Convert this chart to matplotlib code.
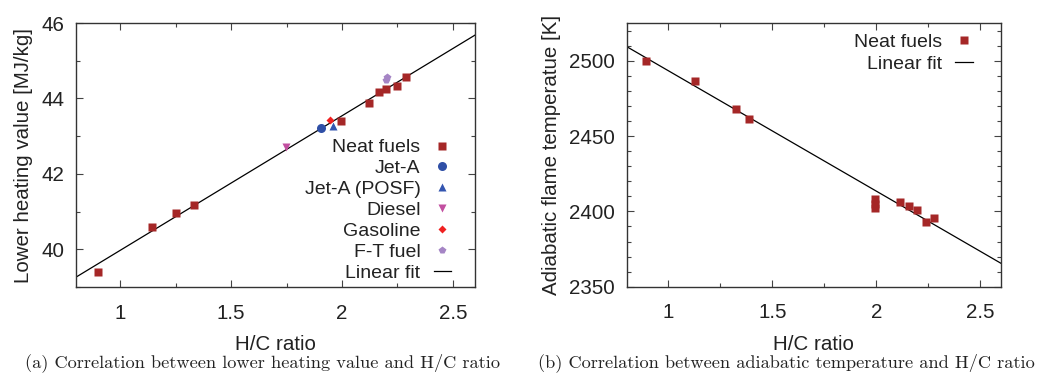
import matplotlib
matplotlib.use("Agg")
import matplotlib.pyplot as plt
from matplotlib.ticker import MultipleLocator

# ---------------- data: panel (a) ----------------
neat_hc_a = [0.898, 1.142, 1.252, 1.334, 1.996, 2.122, 2.165, 2.200, 2.250, 2.288]
neat_lhv = [39.40, 40.58, 40.95, 41.17, 43.40, 43.89, 44.17, 44.25, 44.32, 44.57]
jeta_hc = [1.906]
jeta_lhv = [43.21]
posf_hc = [1.958]
posf_lhv = [43.26]
diesel_hc = [1.747]
diesel_lhv = [42.70]
gasoline_hc = [1.948]
gasoline_lhv = [43.42]
ft_hc = [2.198, 2.205]
ft_lhv = [44.48, 44.57]
fit_a_x = [0.8, 2.6]
fit_a_y = [39.26, 45.68]

# ---------------- data: panel (b) ----------------
neat_hc_b = [0.895, 1.127, 1.324, 1.387, 1.993, 1.993, 1.993, 2.114, 2.157, 2.194, 2.239, 2.277]
neat_tad = [2500.0, 2486.7, 2468.0, 2461.5, 2408.0, 2405.0, 2402.2, 2406.2, 2403.8, 2401.1, 2392.9, 2395.5]
fit_b_x = [0.8, 2.6]
fit_b_y = [2509.5, 2365.5]

labels_a = ["Neat fuels", "Jet-A", "Jet-A (POSF)", "Diesel", "Gasoline", "F-T fuel", "Linear fit"]
labels_b = ["Neat fuels", "Linear fit"]
xticks = [1, 1.5, 2, 2.5]
xticklabels = ["1", "1.5", "2", "2.5"]

plt.rcParams['font.family'] = ['Liberation Sans', 'DejaVu Sans']
FS = 14.8
LFS = 14.0
TXT = "#222222"

fig = plt.figure(figsize=(10.39, 3.73), dpi=100)
axA = fig.add_axes([0.0731, 0.2306, 0.3841, 0.7077])
axB = fig.add_axes([0.6032, 0.2314, 0.3603, 0.7061])

neat_c = "#a52727"
ms_sq = 6.0

def style(ax):
    ax.tick_params(which='both', direction='in', top=True, right=True,
                   colors="#444444", labelcolor=TXT, labelsize=FS, width=0.8)
    ax.tick_params(which='major', length=5)
    ax.tick_params(which='minor', length=3)
    ax.tick_params(axis='x', which='major', pad=12.0)
    ax.tick_params(axis='y', which='major', pad=8.4)
    for s in ax.spines.values():
        s.set_linewidth(1.0)
        s.set_color("#333333")
    ax.set_xlim(0.8, 2.6)
    ax.set_xticks(xticks)
    ax.set_xticklabels(xticklabels)
    ax.xaxis.set_minor_locator(MultipleLocator(0.25))
    ax.set_xlabel("H/C ratio", fontsize=FS, color=TXT, labelpad=9)

# ----- panel (a)
hl, = axA.plot(fit_a_x, fit_a_y, color="black", lw=0.9, zorder=2)
h1, = axA.plot(neat_hc_a, neat_lhv, 's', color=neat_c, ms=ms_sq, mec='none', zorder=3)
h2, = axA.plot(jeta_hc, jeta_lhv, 'o', color="#2f4fa6", ms=6.5, mec='none', zorder=3)
h3, = axA.plot(posf_hc, posf_lhv, '^', color="#3355b0", ms=5.5, mec='none', zorder=3)
h4, = axA.plot(diesel_hc, diesel_lhv, 'v', color="#c24fa0", ms=5.5, mec='none', zorder=3)
h5, = axA.plot(gasoline_hc, gasoline_lhv, 'D', color="#f02020", ms=4.0, mec='none', zorder=3)
h6, = axA.plot(ft_hc, ft_lhv, 'p', color="#a585c5", ms=6.0, mec='none', zorder=3)
style(axA)
axA.set_ylim(39, 46)
axA.set_yticks([40, 42, 44, 46])
axA.yaxis.set_minor_locator(MultipleLocator(1))
axA.set_ylabel("Lower heating value [MJ/kg]", fontsize=FS, color=TXT, labelpad=6)
legA = axA.legend([h1, h2, h3, h4, h5, h6, hl], labels_a, loc='lower right',
                  bbox_to_anchor=(0.9537, 0.0), frameon=False, markerfirst=False,
                  fontsize=LFS, handlelength=0.9, handletextpad=0.68,
                  labelspacing=0.167, borderaxespad=0.0, borderpad=0.28, labelcolor=TXT)
legA._legend_box.align = "right"

# ----- panel (b)
lb, = axB.plot(fit_b_x, fit_b_y, color="black", lw=0.9, zorder=2)
hb, = axB.plot(neat_hc_b, neat_tad, 's', color=neat_c, ms=ms_sq, mec='none', zorder=3)
style(axB)
axB.set_ylim(2350, 2525)
axB.set_yticks([2350, 2400, 2450, 2500])
axB.yaxis.set_minor_locator(MultipleLocator(10))
axB.set_ylabel("Adiabatic flame temperatue [K]", fontsize=FS, color=TXT, labelpad=6)
legB = axB.legend([hb, lb], labels_b, loc='upper right', bbox_to_anchor=(0.950, 1.0),
                  frameon=False, markerfirst=False, fontsize=LFS, handlelength=0.9,
                  handletextpad=0.68, labelspacing=0.234, borderaxespad=0.15,
                  borderpad=0.35, labelcolor=TXT)
legB._legend_box.align = "right"

# captions
fig.text(0.2527, 0.028, "(a) Correlation between lower heating value and H/C ratio",
         family='cmr10', fontsize=13.2, ha='center', va='center', color=TXT)
fig.text(0.7565, 0.028, "(b) Correlation between adiabatic temperature and H/C ratio",
         family='cmr10', fontsize=13.2, ha='center', va='center', color=TXT)

fig.savefig("out.png", dpi=100)
